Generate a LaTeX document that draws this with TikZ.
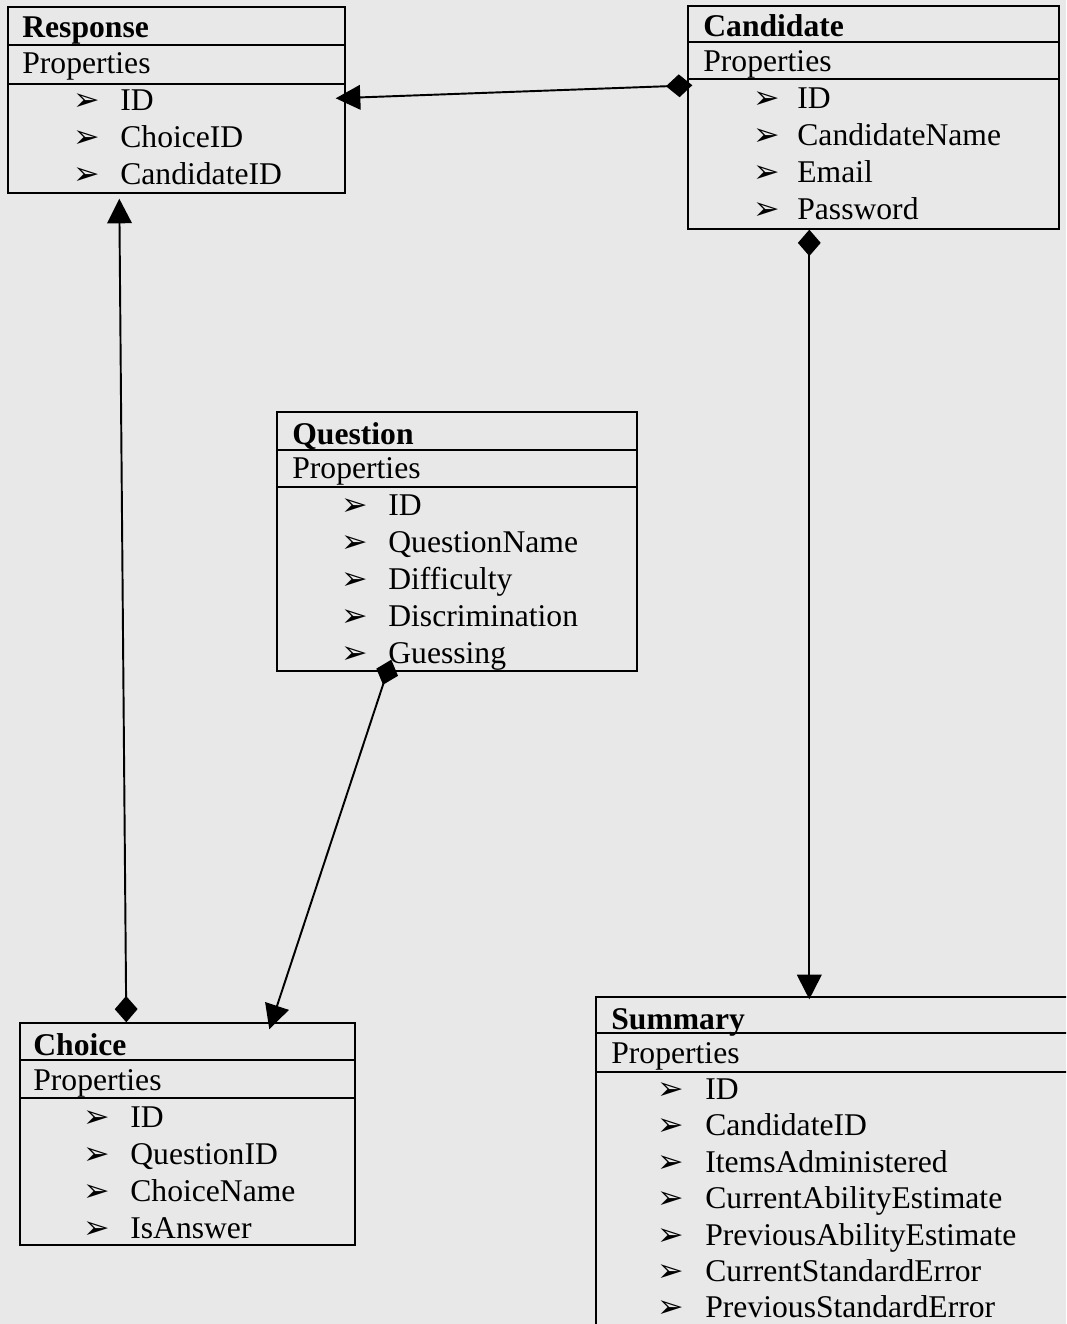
\documentclass[tikz,border=0pt]{standalone}
\usepackage{fontspec}
\setmainfont{Liberation Serif}
\newfontfamily\dingfont{DejaVu Sans}
\usetikzlibrary{arrows.meta}
\usetikzlibrary{calc}
\usetikzlibrary{fit}

\definecolor{paper}{gray}{0.91}

\tikzset{
  cls/.style={draw, line width=0.8pt, inner sep=0pt},
  ttl/.style={anchor=base west, inner sep=0pt, font=\fontsize{18}{21}\selectfont\bfseries},
  prop/.style={anchor=base west, inner sep=0pt},
  bul/.style={anchor=base west, inner sep=0pt, font=\dingfont\fontsize{18}{18}\selectfont},
  link/.style={line width=1.1pt, {Diamond[length=15pt,width=13pt]}-{Triangle[length=14pt,width=14pt]}}
}

\begin{document}
\begin{tikzpicture}[x=0.02cm, y=-0.02cm, font=\fontsize{18}{21}\selectfont]
  \clip (0,0) rectangle (1066,1324);
  \fill[paper] (0,0) rectangle (1066,1324);

  % Response
  \node[cls, fit={(8,7) (345,193)}] (resp) {};
  \draw[line width=0.8pt] (8,45) -- (345,45) (8,84) -- (345,84);
  \node[ttl] (resp-t) at (22,38) {Response};
  \node[prop] (resp-p) at (22,74) {Properties};
  \foreach \f [count=\i] in {ID,ChoiceID,CandidateID}{
    \node[bul] (resp-b\i) at (73,{74+37*\i}) {➢};
    \node[prop] (resp-\i) at (120,{74+37*\i}) {\f};
  }

  % Candidate
  \node[cls, fit={(688,6) (1059,229)}] (cand) {};
  \draw[line width=0.8pt] (688,42) -- (1059,42) (688,79) -- (1059,79);
  \node[ttl] (cand-t) at (703,37) {Candidate};
  \node[prop] (cand-p) at (703,72) {Properties};
  \foreach \f [count=\i] in {ID,CandidateName,Email,Password}{
    \node[bul] (cand-b\i) at (753,{72+37*\i}) {➢};
    \node[prop] (cand-\i) at (797,{72+37*\i}) {\f};
  }

  % Question
  \node[cls, fit={(277,412) (637,671)}] (quest) {};
  \draw[line width=0.8pt] (277,450) -- (637,450) (277,487) -- (637,487);
  \node[ttl] (quest-t) at (292,444) {Question};
  \node[prop] (quest-p) at (292,478) {Properties};
  \foreach \f [count=\i] in {ID,QuestionName,Difficulty,Discrimination,Guessing}{
    \node[bul] (quest-b\i) at (341,{478+37*\i}) {➢};
    \node[prop] (quest-\i) at (388,{478+37*\i}) {\f};
  }

  % Choice
  \node[cls, fit={(20,1023) (355,1245)}] (choice) {};
  \draw[line width=0.8pt] (20,1060) -- (355,1060) (20,1098) -- (355,1098);
  \node[ttl] (choice-t) at (33,1055) {Choice};
  \node[prop] (choice-p) at (33,1090) {Properties};
  \foreach \f [count=\i] in {ID,QuestionID,ChoiceName,IsAnswer}{
    \node[bul] (choice-b\i) at (83,{1090+37*\i}) {➢};
    \node[prop] (choice-\i) at (130,{1090+37*\i}) {\f};
  }

  % Summary (runs off the page)
  \node[cls, fit={(596,997) (1090,1340)}] (summ) {};
  \draw[line width=0.8pt] (596,1033) -- (1090,1033) (596,1072) -- (1090,1072);
  \node[ttl] (summ-t) at (611,1029) {Summary};
  \node[prop] (summ-p) at (611,1063) {Properties};
  \foreach \f [count=\i] in {ID,CandidateID,ItemsAdministered,CurrentAbilityEstimate,
      PreviousAbilityEstimate,CurrentStandardError,PreviousStandardError}{
    \node[bul] (summ-b\i) at (657,{1063+36.4*\i}) {➢};
    \node[prop] (summ-\i) at (705,{1063+36.4*\i}) {\f};
  }

  % links
  \draw[link] ($(cand.north west)+(5,80)$) -- ($(resp.north east)+(-10,92)$);
  \draw[link] ($(cand.south west)+(122,0)$) -- ($(summ.north west)+(214,3)$);
  \draw[link] ($(choice.north west)+(107,0)$) -- ($(resp.south west)+(112,5)$);
  \draw[link] ($(quest.south west)+(115,-12)$) -- ($(choice.north west)+(250,7)$);
\end{tikzpicture}
\end{document}
